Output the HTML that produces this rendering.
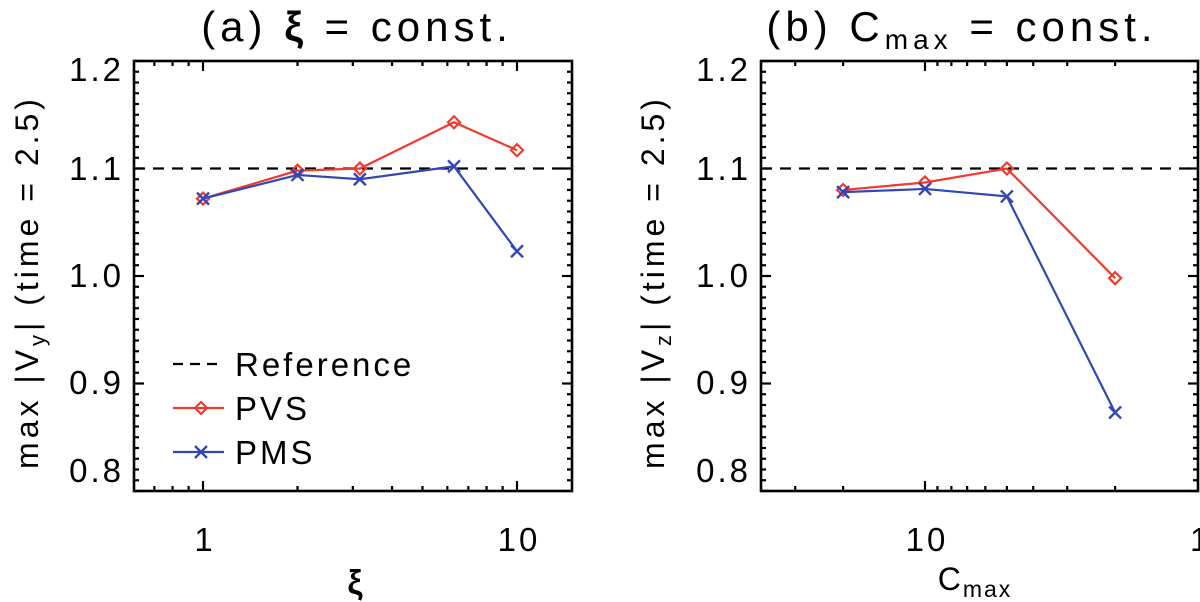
<!DOCTYPE html>
<html><head><meta charset="utf-8"><style>
html,body{margin:0;padding:0;background:#fff;}
svg{display:block;font-family:"Liberation Sans",sans-serif;}
</style></head><body>
<svg id="chart" width="1200" height="602" viewBox="0 0 1200 602" xmlns="http://www.w3.org/2000/svg"></svg>
<script>
// Panel (a) data
const xiValues = [1, 2, 3.16, 6.3, 10];
const pvsA = [1.072, 1.098, 1.100, 1.143, 1.117];
const pmsA = [1.072, 1.094, 1.090, 1.102, 1.023];
// Panel (b) data (axis coordinate)
const cmaxValues = [-90, 10, 60, 90];
const pvsB = [1.080, 1.087, 1.100, 0.998];
const pmsB = [1.078, 1.081, 1.074, 0.873];
const referenceValue = 1.1;
const yTickLabels = ["0.8", "0.9", "1.0", "1.1", "1.2"];
const yTickValues = [0.8, 0.9, 1.0, 1.1, 1.2];
const xTickLabelsA = ["1", "10"];
const xTickValuesA = [1, 10];
const xTickLabelsB = ["10", "1"];
const xTickValuesB = [10, 100];

const svg = document.getElementById('chart');
const NS = 'http://www.w3.org/2000/svg';
function el(tag, attrs, parent) {
  const e = document.createElementNS(NS, tag);
  for (const k in attrs) e.setAttribute(k, attrs[k]);
  (parent || svg).appendChild(e);
  return e;
}
const TOP = 61, BOT = 491;
function yScale(v) { return TOP + (1.2 - v) * (BOT - TOP) / 0.4; }
function xA(v) { return 203 + Math.log10(v) * 314; }
function xB(v) { return 1197 - 272 * (Math.log10(110 - v) - 1); }

function drawFrame(g, L, R) {
  const f = el('rect', {x: L, y: TOP, width: R - L, height: BOT - TOP, fill: 'none', stroke: '#000', 'stroke-width': 2.6}, g);
  
  
  for (let i = 0; i <= 40; i++) {
    const v = 0.8 + i * 0.01;
    const y = yScale(v);
    const len = (i % 10 === 0) ? 10 : 5;
    el('line', {x1: L, x2: L + len, y1: y, y2: y, stroke: '#000', 'stroke-width': 2.2}, g);
    el('line', {x1: R, x2: R - len, y1: y, y2: y, stroke: '#000', 'stroke-width': 2.2}, g);
  }
  const labelY = [482, 394, 287, 180, 81];
  yTickValues.forEach((v, i) => {
    const t = el('text', {x: L - 10, y: labelY[i], 'text-anchor': 'end', 'font-size': 33, 'letter-spacing': 3, fill: '#000'}, g);
    t.textContent = yTickLabels[i];
    
    
  });
}
function xTicks(g, xs, majors) {
  xs.forEach(x => {
    const len = majors.includes(x) ? 10 : 5;
    el('line', {x1: x, x2: x, y1: BOT, y2: BOT - len, stroke: '#000', 'stroke-width': 2.2}, g);
    el('line', {x1: x, x2: x, y1: TOP, y2: TOP + len, stroke: '#000', 'stroke-width': 2.2}, g);
  });
}
function series(g, xs, ys, xf, color, marker, name) {
  const pts = xs.map((x, i) => xf(x) + ',' + yScale(ys[i])).join(' ');
  const pl = el('polyline', {points: pts, fill: 'none', stroke: color, 'stroke-width': 2.2}, g);
  
  
  xs.forEach((x, i) => drawMarker(g, xf(x), yScale(ys[i]), color, marker, name));
}
function drawMarker(g, cx, cy, color, marker, name) {
  let m;
  if (marker === 'd') {
    m = el('polygon', {points: `${cx},${cy-6} ${cx+6},${cy} ${cx},${cy+6} ${cx-6},${cy}`, fill: 'none', stroke: color, 'stroke-width': 2.2}, g);
  } else {
    m = el('path', {d: `M${cx-6},${cy-6}L${cx+6},${cy+6}M${cx+6},${cy-6}L${cx-6},${cy+6}`, stroke: color, 'stroke-width': 2.4}, g);
  }
  
  
}
function refLine(g, L, R) {
  const y = yScale(referenceValue);
  const r = el('line', {x1: L, x2: R, y1: y, y2: y, stroke: '#000', 'stroke-width': 2.2, 'stroke-dasharray': '11,8'}, g);
  
  
}
function text(g, x, y, str, size, anchor, name, extra) {
  const t = el('text', Object.assign({x: x, y: y, 'font-size': size, 'text-anchor': anchor || 'middle', fill: '#000', 'xml:space': 'preserve'}, extra || {}), g);
  t.innerHTML = str;
  
  
  return t;
}

// ---- Panel A ----
const gA = el('g', {});


const LA = 134, RA = 572;
drawFrame(gA, LA, RA);
const tickA = [0.7, 0.8, 0.9, 1, 2, 3, 4, 5, 6, 7, 8, 9, 10].map(xA);
xTicks(gA, tickA, xTickValuesA.map(xA));
xTickValuesA.forEach((v, i) => text(gA, xA(v) + 2, 551, xTickLabelsA[i], 33, 'middle', 'x-tick-label', {'letter-spacing': 3}));
refLine(gA, LA, RA);
series(gA, xiValues, pvsA, xA, '#f03a2e', 'd', 'pvs');
series(gA, xiValues, pmsA, xA, '#3347b4', 'x', 'pms');
text(gA, 357, 41, '(a)  <tspan font-weight="bold">ξ</tspan>  =  const.', 42, 'middle', 'panel-a-title', {'letter-spacing': '5'});
text(gA, 355, 594, 'ξ', 34, 'middle', 'x-axis-title', {'font-weight': 'bold'});
text(gA, 0, 0, 'max  |V<tspan font-size="22" dy="7">y</tspan><tspan dy="-7">|</tspan>  (time  =  2.5)', 32, 'middle', 'y-axis-title', {transform: 'translate(38,282) rotate(-90)', 'letter-spacing': 4});
// legend
const lg = el('g', {});


el('line', {x1: 173, x2: 224, y1: 364, y2: 364, stroke: '#000', 'stroke-width': 2.2, 'stroke-dasharray': '10,7'}, lg);
text(lg, 235, 376, 'Reference', 33, 'start', 'legend-entry-reference', {'letter-spacing': 3});
el('line', {x1: 173, x2: 224, y1: 408, y2: 408, stroke: '#f03a2e', 'stroke-width': 2.2}, lg);
drawMarker(lg, 201, 408, '#f03a2e', 'd', 'legend-pvs');
text(lg, 235, 420, 'PVS', 33, 'start', 'legend-entry-pvs', {'letter-spacing': 3});
el('line', {x1: 173, x2: 224, y1: 452, y2: 452, stroke: '#3347b4', 'stroke-width': 2.2}, lg);
drawMarker(lg, 201, 452, '#3347b4', 'x', 'legend-pms');
text(lg, 235, 464, 'PMS', 33, 'start', 'legend-entry-pms', {'letter-spacing': 3});

// ---- Panel B ----
const gB = el('g', {});


const LB = 761, RB = 1198;
drawFrame(gB, LB, RB);
const tickB = [-190, -90, 10, 20, 30, 40, 50, 60, 70, 80, 90].map(xB);
xTicks(gB, tickB, [xB(10)]);
text(gB, xB(10) + 2, 551, '10', 33, 'middle', 'x-tick-label', {'letter-spacing': 3});
text(gB, 1190, 551, '1', 33, 'start', 'x-tick-label');
refLine(gB, LB, RB);
series(gB, cmaxValues, pvsB, xB, '#f03a2e', 'd', 'pvs');
series(gB, cmaxValues, pmsB, xB, '#3347b4', 'x', 'pms');
text(gB, 962, 41, '(b)  C<tspan font-size="28" dy="8">max</tspan><tspan dy="-8">  =  const.</tspan>', 42, 'middle', 'panel-b-title', {'letter-spacing': '5'});
text(gB, 975, 590, 'C<tspan font-size="23" dy="7">max</tspan>', 32, 'middle', 'x-axis-title', {'letter-spacing': 2});
text(gB, 0, 0, 'max  |V<tspan font-size="22" dy="7">z</tspan><tspan dy="-7">|</tspan>  (time  =  2.5)', 32, 'middle', 'y-axis-title', {transform: 'translate(664,282) rotate(-90)', 'letter-spacing': 4});
</script>
</body></html>
